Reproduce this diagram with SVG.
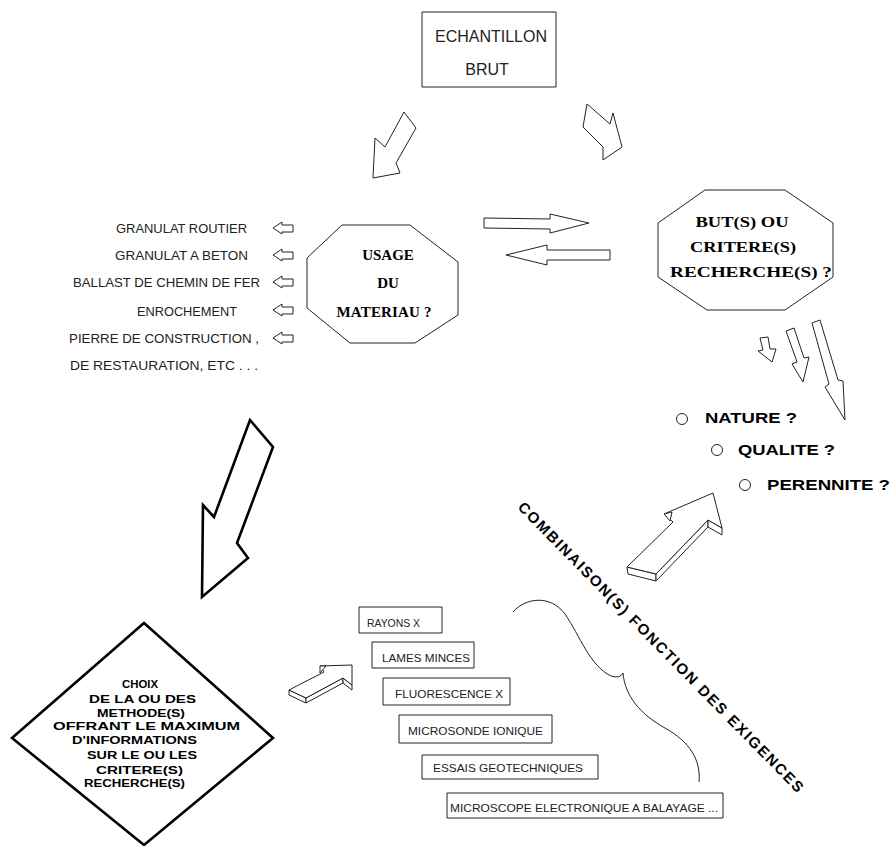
<svg xmlns="http://www.w3.org/2000/svg" width="893" height="846" viewBox="0 0 893 846">
<style>
.bg{fill:#fff}
.thin{fill:#fff;stroke:#222;stroke-width:1;stroke-linejoin:round}
.thick{fill:#fff;stroke:#000;stroke-width:2.6;stroke-linejoin:miter}
.ln{fill:none;stroke:#222;stroke-width:1;stroke-linejoin:round}
.lt{font-family:"Liberation Sans",Arial,sans-serif;fill:#222}
.sb{font-family:"Liberation Serif","Times New Roman",serif;font-weight:bold;fill:#000;font-size:15px;text-anchor:middle}
.pb{font-family:"Liberation Sans",Arial,sans-serif;font-weight:bold;fill:#000}
</style>
<rect class="bg" x="0" y="0" width="893" height="846"/>

<g id="echantillon">
<rect class="thin" x="422" y="12" width="134" height="75"/>
<text class="lt" x="491" y="42" font-size="16" text-anchor="middle">ECHANTILLON</text>
<text class="lt" x="487" y="75" font-size="16" text-anchor="middle">BRUT</text>
</g>

<g id="usage">
<polygon class="thin" points="342,225 410,225 458,262 458,315 415,343 350,343 307,308 307,258"/>
<text class="sb" x="388" y="260">USAGE</text>
<text class="sb" x="388" y="288">DU</text>
<text class="sb" x="384" y="317" textLength="95" lengthAdjust="spacing">MATERIAU ?</text>
</g>

<g id="usages-list">
<text class="lt" x="116" y="233" font-size="13" textLength="131" lengthAdjust="spacingAndGlyphs">GRANULAT ROUTIER</text>
<text class="lt" x="115" y="260" font-size="13" textLength="133" lengthAdjust="spacingAndGlyphs">GRANULAT A BETON</text>
<text class="lt" x="73" y="287" font-size="13" textLength="187" lengthAdjust="spacingAndGlyphs">BALLAST DE CHEMIN DE FER</text>
<text class="lt" x="137" y="316" font-size="13" textLength="100" lengthAdjust="spacingAndGlyphs">ENROCHEMENT</text>
<text class="lt" x="69" y="343" font-size="13" textLength="190" lengthAdjust="spacingAndGlyphs">PIERRE DE CONSTRUCTION ,</text>
<text class="lt" x="70" y="370" font-size="13" textLength="188" lengthAdjust="spacingAndGlyphs">DE RESTAURATION, ETC . . .</text>
</g>

<g id="buts">
<polygon class="thin" points="705,190 785,190 833,223 833,277 785,310 707,310 658,277 658,223"/>
<text class="sb" x="742" y="227" font-size="16.5" textLength="93" lengthAdjust="spacingAndGlyphs">BUT(S) OU</text>
<text class="sb" x="743" y="252" font-size="16.5" textLength="106" lengthAdjust="spacingAndGlyphs">CRITERE(S)</text>
<text class="sb" x="751" y="277" font-size="16.5" textLength="162" lengthAdjust="spacingAndGlyphs">RECHERCHE(S) ?</text>
</g>

<g id="criteres">
<circle class="thin" cx="682" cy="419" r="5.5"/>
<text class="pb" x="705" y="423" font-size="15" textLength="92" lengthAdjust="spacingAndGlyphs">NATURE ?</text>
<circle class="thin" cx="717" cy="450" r="5.5"/>
<text class="pb" x="738" y="455" font-size="15" textLength="97" lengthAdjust="spacingAndGlyphs">QUALITE ?</text>
<circle class="thin" cx="745" cy="485" r="5.5"/>
<text class="pb" x="767" y="490" font-size="15" textLength="123" lengthAdjust="spacingAndGlyphs">PERENNITE ?</text>
</g>

<g id="choix">
<polygon class="thick" points="144,623 273,738 144,845 12,738"/>
<g class="pb" font-size="11.5">
<text x="122" y="688" textLength="36" lengthAdjust="spacingAndGlyphs">CHOIX</text>
<text x="89" y="703" textLength="107" lengthAdjust="spacingAndGlyphs">DE LA OU DES</text>
<text x="97" y="717" textLength="88" lengthAdjust="spacingAndGlyphs">METHODE(S)</text>
<text x="53" y="730" textLength="187" lengthAdjust="spacingAndGlyphs">OFFRANT  LE  MAXIMUM</text>
<text x="72" y="744" textLength="125" lengthAdjust="spacingAndGlyphs">D'INFORMATIONS</text>
<text x="87" y="759" textLength="110" lengthAdjust="spacingAndGlyphs">SUR LE OU LES</text>
<text x="96" y="774" textLength="87" lengthAdjust="spacingAndGlyphs">CRITERE(S)</text>
<text x="84" y="787" textLength="101" lengthAdjust="spacingAndGlyphs">RECHERCHE(S)</text>
</g>
</g>

<g id="methodes">
<rect class="thin" x="359" y="607" width="83" height="26"/>
<text class="lt" x="367" y="627" font-size="10.5" textLength="53" lengthAdjust="spacingAndGlyphs">RAYONS X</text>
<rect class="thin" x="372" y="642" width="102" height="26"/>
<text class="lt" x="382" y="662" font-size="10.5" textLength="88" lengthAdjust="spacingAndGlyphs">LAMES MINCES</text>
<rect class="thin" x="383" y="678" width="127" height="27"/>
<text class="lt" x="395" y="698" font-size="10.5" textLength="108" lengthAdjust="spacingAndGlyphs">FLUORESCENCE X</text>
<rect class="thin" x="399" y="715" width="153" height="28"/>
<text class="lt" x="408" y="735" font-size="10.5" textLength="135" lengthAdjust="spacingAndGlyphs">MICROSONDE IONIQUE</text>
<rect class="thin" x="422" y="755" width="176" height="24"/>
<text class="lt" x="433" y="772" font-size="10.5" textLength="150" lengthAdjust="spacingAndGlyphs">ESSAIS GEOTECHNIQUES</text>
<rect class="thin" x="447" y="793" width="276" height="25"/>
<text class="lt" x="450" y="812" font-size="10.5" textLength="268" lengthAdjust="spacingAndGlyphs">MICROSCOPE ELECTRONIQUE A BALAYAGE ...</text>
</g>

<g id="combinaisons">
<path class="ln" d="M513,612 C525,598 550,594 565,614 C580,636 590,666 611,676 Q620,679 623,673 C625,696 640,714 665,728 C690,742 701,760 699,782"/>
<text class="pb" font-size="15" transform="translate(517,508) rotate(45.5)" x="0" y="0" textLength="400" lengthAdjust="spacing">COMBINAISON(S) FONCTION DES EXIGENCES</text>
</g>

<g id="connectors">
<polygon class="thin" points="404,112 416,128 396,163 400,173 373,178 375,138 385,147"/>
<polygon class="thin" points="587,104 610,124 613,113 622,147 603,160 603,147 583,127"/>
<polygon class="thin" points="484,218 550,219 550,214 589,223 550,233 550,229 484,228"/>
<polygon class="thin" points="610,250 547,250 547,245 506,255 547,265 547,260 610,260"/>
<g id="small-arrows">
<polygon class="thin" points="273,228 282,222 282,225 293,225 293,232 282,232 282,234"/>
<polygon class="thin" points="273,255 282,249 282,252 293,252 293,259 282,259 282,261"/>
<polygon class="thin" points="273,282 282,276 282,279 293,279 293,286 282,286 282,288"/>
<polygon class="thin" points="273,310 282,304 282,307 293,307 293,314 282,314 282,316"/>
<polygon class="thin" points="273,338 282,332 282,335 293,335 293,342 282,342 282,344"/>
</g>
<polygon class="thin" points="760,338 768,337 770,349 776,349 772,362 758,351 763,350"/>
<polygon class="thin" points="786,331 794,328 804,358 809,357 803,382 792,364 797,362"/>
<polygon class="thin" points="812,323 820,320 838,380 843,381 845,420 825,387 829,384"/>
<polygon class="thick" points="250,420 273,447 237,543 248,558 202,597 203,505 214,517"/>
<g id="arrow3d-big">
<polygon class="thin" points="627,567 656,574 656,581 628,574"/>
<polygon class="thin" points="656,574 708,520 708,527 656,581"/>
<polygon class="thin" points="708,520 722,528 722,535 708,527"/>
<polygon class="thin" points="713,493 722,528 708,520 656,574 627,567 673,522 664,514"/>
<polygon class="thin" points="664,514 672,512 670,521"/>
</g>
<g id="arrow3d-small">
<polygon class="thin" points="289,690 306,698 306,703 289,695"/>
<polygon class="thin" points="306,698 343,678 343,683 306,703"/>
<polygon class="thin" points="343,678 352,685 352,690 343,683"/>
<polygon class="thin" points="352,665 352,685 343,678 306,698 289,690 324,672 320,666"/>
<polygon class="thin" points="320,666 326,666 320,673"/>
</g>
</g>
</svg>
